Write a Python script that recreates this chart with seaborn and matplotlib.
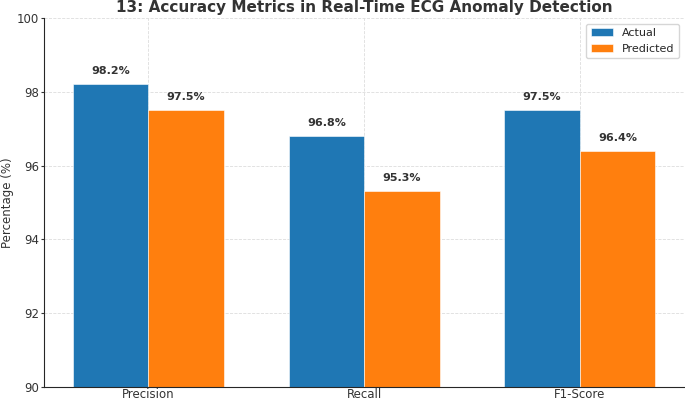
import seaborn as sns
import pandas as pd
import matplotlib.pyplot as plt

# dados
metricas = ["Precision", "Recall", "F1-Score"]
actual = [98.2, 96.8, 97.5]
predicted = [97.5, 95.3, 96.4]

dados = pd.DataFrame({
    "Metric": metricas * 2,
    "Value": actual + predicted,
    "Type": ["Actual"] * 3 + ["Predicted"] * 3,
})

sns.set_style("ticks")
plt.rcParams["font.family"] = ["DejaVu Sans"]

fig, ax = plt.subplots(figsize=(6.85, 4.01), dpi=100)
fig.subplots_adjust(left=0.064, right=0.999, top=0.955, bottom=0.035)

sns.barplot(data=dados, x="Metric", y="Value", hue="Type",
            palette=["#1f77b4", "#ff7f0e"], width=0.7, saturation=1,
            edgecolor="white", linewidth=0.4, ax=ax)

# rótulos em cima das barras
for cont in ax.containers:
    for barra in cont:
        v = barra.get_height()
        ax.text(barra.get_x() + barra.get_width() / 2, v + 0.22, f"{v:.1f}%",
                ha="center", va="bottom", fontsize=8, fontweight="bold", color="#333333")

ax.set_ylim(90, 100)
ax.set_xlim(-0.485, 2.485)
ax.set_xlabel("")
ax.set_ylabel("Percentage (%)", fontsize=8.5, color="#333333", labelpad=2)
ax.set_title("13: Accuracy Metrics in Real-Time ECG Anomaly Detection",
             fontsize=11, fontweight="bold", color="#333333", pad=4)
ax.tick_params(axis="y", labelsize=8.5, colors="#333333", length=2, pad=1.5)
ax.tick_params(axis="x", labelsize=8.5, colors="#333333", length=0, pad=1)
ax.grid(True, linestyle="--", linewidth=0.6, color="#dddddd")
ax.set_axisbelow(True)
ax.legend(title=None, loc="upper right", fontsize=8)
sns.despine(ax=ax)

plt.savefig("out.png", dpi=100)
